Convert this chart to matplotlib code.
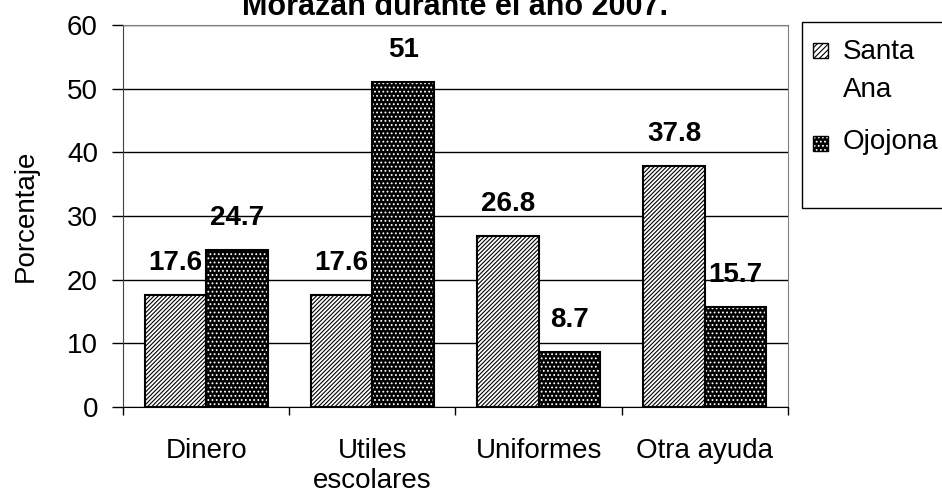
import matplotlib
matplotlib.use('Agg')
import matplotlib.pyplot as plt
from matplotlib.patches import Rectangle
import numpy as np

plt.rcParams['font.family'] = ['Liberation Sans', 'DejaVu Sans']
plt.rcParams['hatch.linewidth'] = 0.8

# data
categorias = ['Dinero', 'Utiles\nescolares', 'Uniformes', 'Otra ayuda']
santa_ana = [17.6, 17.6, 26.8, 37.8]
ojojona = [24.7, 51, 8.7, 15.7]
series = ['Santa\nAna', 'Ojojona']
titulo = 'Morazán durante el año 2007.'

fig = plt.figure(figsize=(9.42, 5), dpi=100)
ax = fig.add_axes([123 / 942, 1 - 407 / 500, 665 / 942, 382 / 500])

x = np.arange(len(categorias))
w = 0.37

# Santa Ana: white with diagonal hatch
ax.bar(x - w / 2, santa_ana, w, facecolor='white', edgecolor='black',
       hatch='////////', linewidth=1.5, zorder=3)
# Ojojona: black with white dots, then outline
ax.bar(x + w / 2, ojojona, w, facecolor='black', edgecolor='white',
       hatch='....', linewidth=0, zorder=3)
ax.bar(x + w / 2, ojojona, w, fill=False, edgecolor='black',
       linewidth=1.5, zorder=4)

# value labels
for xs, vals in ((x - w / 2, santa_ana), (x + w / 2, ojojona)):
    for xi, v in zip(xs, vals):
        ax.annotate(f'{v:g}', (xi, v), xytext=(0, 18), textcoords='offset points',
                    ha='center', va='baseline', fontsize=20, fontweight='bold',
                    zorder=5)

ax.set_ylim(0, 60)
ax.set_xlim(-0.5, len(categorias) - 0.5)
ax.set_yticks(range(0, 61, 10))
ax.tick_params(axis='y', labelsize=20, length=8, width=1, pad=10)
ax.yaxis.grid(True, color='black', linewidth=1, zorder=0)
ax.set_axisbelow(True)

ax.set_xticks(x)
ax.set_xticklabels(categorias, fontsize=20)
ax.tick_params(axis='x', length=0, pad=22)
ax.set_xticks(np.arange(-0.5, len(categorias), 1), minor=True)
ax.tick_params(axis='x', which='minor', length=6, width=1, direction='out')

ax.spines['top'].set_color('#808080')
ax.spines['right'].set_color('#808080')
ax.spines['left'].set_color('#404040')
ax.spines['bottom'].set_color('black')

ax.set_ylabel('Porcentaje', fontsize=20)
ax.yaxis.set_label_coords(-0.126, 0.5)

# title (only the last line is visible, as in the source)
fig.text(455 / 942, 1 - 15 / 500, titulo, ha='center', va='baseline',
         fontsize=22, fontweight='bold')

# legend box, running off the right edge
tf = fig.transFigure
fig.patches.append(Rectangle((802 / 942, 1 - 208 / 500), 200 / 942, 186 / 500,
                             transform=tf, facecolor='white', edgecolor='black',
                             linewidth=1, clip_on=False))
fig.patches.append(Rectangle((813 / 942, 1 - 58 / 500), 15 / 942, 15 / 500,
                             transform=tf, facecolor='white', edgecolor='black',
                             hatch='//////', linewidth=1))
fig.patches.append(Rectangle((813 / 942, 1 - 151 / 500), 15 / 942, 15 / 500,
                             transform=tf, facecolor='black', edgecolor='white',
                             hatch='....', linewidth=0))
fig.patches.append(Rectangle((813 / 942, 1 - 151 / 500), 15 / 942, 15 / 500,
                             transform=tf, fill=False, edgecolor='black',
                             linewidth=1))
fig.text(843 / 942, 1 - 59 / 500, series[0].split('\n')[0], ha='left',
         va='baseline', fontsize=20)
fig.text(843 / 942, 1 - 97 / 500, series[0].split('\n')[1], ha='left',
         va='baseline', fontsize=20)
fig.text(843 / 942, 1 - 149 / 500, series[1], ha='left', va='baseline',
         fontsize=20)

fig.savefig('out.png', dpi=100)
